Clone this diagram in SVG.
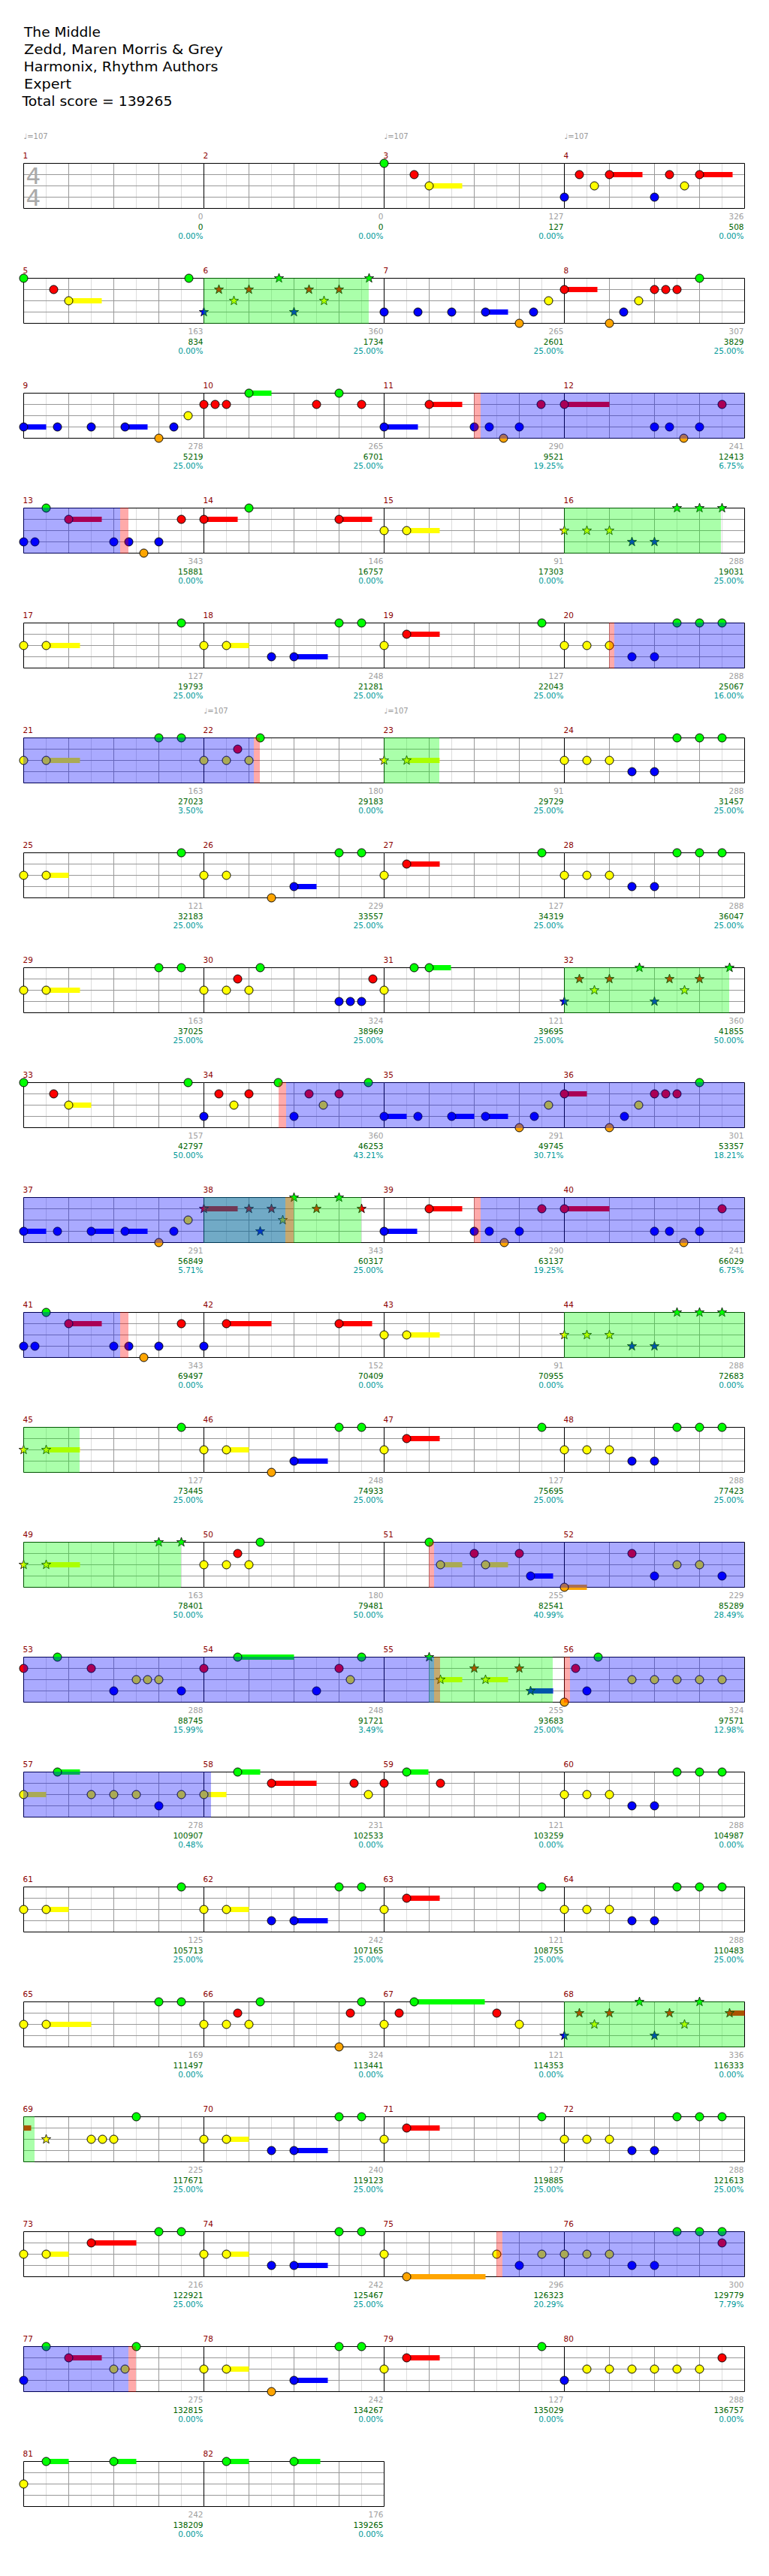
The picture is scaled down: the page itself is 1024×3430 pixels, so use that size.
<svg xmlns="http://www.w3.org/2000/svg" xmlns:xlink="http://www.w3.org/1999/xlink" width="1024" height="3430" viewBox="0 0 1024 3430">
<style>
.ttl{font-family:"DejaVu Sans",sans-serif;font-size:18.5px;fill:#000}
.mn{font-family:"DejaVu Sans",sans-serif;font-size:10.5px;fill:#8b0000}
.tp{font-family:"DejaVu Sans",sans-serif;font-size:10px;fill:#999}
.ts{font-family:"DejaVu Sans",sans-serif;font-size:31px;fill:#aaa}
.a,.b,.c{font-family:"DejaVu Sans",sans-serif;font-size:10.5px;text-anchor:end}
.a{fill:#a0a0a0}.b{fill:#006400}.c{fill:#009999}
.g{fill:#0f0}.r{fill:#f00}.y{fill:#ff0}.b2{fill:#00f}.o{fill:#ffa500}
.ovg{fill:#0f0;fill-opacity:.333}
.ovb{fill:#00f;fill-opacity:.333}
.ovp{fill:#f00;fill-opacity:.333}
</style>
<defs>
<g id="grid" fill="none">
<path d="M30,0V60M90,0V60M150,0V60M210,0V60" stroke="#ddd"/>
<path d="M60,0V60M120,0V60M180,0V60M0,15H240M0,30H240M0,45H240" stroke="#999"/>
<path d="M0,0H240M0,60H240M0,0V60" stroke="#000"/>
</g>
<circle id="G" r="5.5" fill="#0f0" stroke="#000"/>
<circle id="R" r="5.5" fill="#f00" stroke="#000"/>
<circle id="Y" r="5.5" fill="#ff0" stroke="#000"/>
<circle id="B" r="5.5" fill="#00f" stroke="#000"/>
<circle id="O" r="5.5" fill="#ffa500" stroke="#000"/>
<path id="st" d="M0,-6.5L1.53,-2.1L6.18,-2.01L2.47,0.8L3.82,5.26L0,2.6L-3.82,5.26L-2.47,0.8L-6.18,-2.01L-1.53,-2.1Z" stroke="#000" stroke-width="0.8"/>
<use id="sG" href="#st" fill="#0f0"/>
<use id="sR" href="#st" fill="#f00"/>
<use id="sY" href="#st" fill="#ff0"/>
<use id="sB" href="#st" fill="#00f"/>
<g id="P"><use href="#Y" x="0" y="30"/><use href="#Y" x="30" y="30"/><use href="#Y" x="60" y="30"/><use href="#B" x="90" y="45"/><use href="#B" x="120" y="45"/><use href="#G" x="150" y="0"/><use href="#G" x="180" y="0"/><use href="#G" x="210" y="0"/></g>
<g id="sP"><use href="#sY" x="0" y="30"/><use href="#sY" x="30" y="30"/><use href="#sY" x="60" y="30"/><use href="#sB" x="90" y="45"/><use href="#sB" x="120" y="45"/><use href="#sG" x="150" y="0"/><use href="#sG" x="180" y="0"/><use href="#sG" x="210" y="0"/></g>
<g id="tri"><use href="#sB" x="0" y="45"/><use href="#sR" x="20" y="15"/><use href="#sY" x="40" y="30"/><use href="#sR" x="60" y="15"/><use href="#sG" x="100" y="0"/><use href="#sB" x="120" y="45"/><use href="#sR" x="140" y="15"/><use href="#sY" x="160" y="30"/><use href="#sR" x="180" y="15"/><use href="#sG" x="220" y="0"/></g>
<g id="v1"><rect class="y" x="30" y="26.5" width="30" height="7"/><rect class="b2" x="120" y="41.5" width="45" height="7"/><use href="#Y" x="0" y="30"/><use href="#Y" x="30" y="30"/><use href="#B" x="90" y="45"/><use href="#B" x="120" y="45"/><use href="#G" x="180" y="0"/><use href="#G" x="210" y="0"/></g>
<g id="v2"><rect class="r" x="30" y="11.5" width="44" height="7"/><use href="#Y" x="0" y="30"/><use href="#R" x="30" y="15"/><use href="#G" x="210" y="0"/></g>
</defs>
<rect width="1024" height="3430" fill="#fff"/>
<g id="title">
<text class="ttl" x="32" y="49" textLength="102" lengthAdjust="spacingAndGlyphs">The Middle</text>
<text class="ttl" x="32" y="72" textLength="265" lengthAdjust="spacingAndGlyphs">Zedd, Maren Morris &amp; Grey</text>
<text class="ttl" x="31.5" y="95" textLength="259" lengthAdjust="spacingAndGlyphs">Harmonix, Rhythm Authors</text>
<text class="ttl" x="32" y="118" textLength="63" lengthAdjust="spacingAndGlyphs">Expert</text>
<text class="ttl" x="29.5" y="141" textLength="200" lengthAdjust="spacingAndGlyphs">Total score = 139265</text>
</g>

<g id="row0" transform="translate(0,217.5)">
<use href="#grid" x="31.5"/><use href="#grid" x="271.5"/><use href="#grid" x="511.5"/><use href="#grid" x="751.5"/><path d="M991.5,0V60" stroke="#000"/>
<g id="m1" transform="translate(31.5,0)"><text class="mn" x="-1" y="-7">1</text><text class="tp" x="0" y="-33">♩=107</text>
<text class="ts"><tspan x="3" y="27.5">4</tspan><tspan x="3" y="56.5">4</tspan></text>
<text class="a" x="239" y="74.5">0</text><text class="b" x="239" y="88">0</text><text class="c" x="239" y="100.5">0.00%</text></g>
<g id="m2" transform="translate(271.5,0)"><text class="mn" x="-1" y="-7">2</text>
<text class="a" x="239" y="74.5">0</text><text class="b" x="239" y="88">0</text><text class="c" x="239" y="100.5">0.00%</text></g>
<g id="m3" transform="translate(511.5,0)"><text class="mn" x="-1" y="-7">3</text><text class="tp" x="0" y="-33">♩=107</text>
<rect class="y" x="60" y="26.5" width="44" height="7"/>
<use href="#G" x="0" y="0"/><use href="#R" x="40" y="15"/><use href="#Y" x="60" y="30"/>
<text class="a" x="239" y="74.5">127</text><text class="b" x="239" y="88">127</text><text class="c" x="239" y="100.5">0.00%</text></g>
<g id="m4" transform="translate(751.5,0)"><text class="mn" x="-1" y="-7">4</text><text class="tp" x="0" y="-33">♩=107</text>
<rect class="r" x="60" y="11.5" width="44" height="7"/><rect class="r" x="180" y="11.5" width="44" height="7"/>
<use href="#B" x="0" y="45"/><use href="#R" x="20" y="15"/><use href="#Y" x="40" y="30"/><use href="#R" x="60" y="15"/><use href="#B" x="120" y="45"/><use href="#R" x="140" y="15"/><use href="#Y" x="160" y="30"/><use href="#R" x="180" y="15"/>
<text class="a" x="239" y="74.5">326</text><text class="b" x="239" y="88">508</text><text class="c" x="239" y="100.5">0.00%</text></g>
</g>

<g id="row1" transform="translate(0,370.5)">
<use href="#grid" x="31.5"/><use href="#grid" x="271.5"/><use href="#grid" x="511.5"/><use href="#grid" x="751.5"/><path d="M991.5,0V60" stroke="#000"/>
<g id="m5" transform="translate(31.5,0)"><text class="mn" x="-1" y="-7">5</text>
<rect class="y" x="60" y="26.5" width="44" height="7"/>
<use href="#G" x="0" y="0"/><use href="#R" x="40" y="15"/><use href="#Y" x="60" y="30"/><use href="#G" x="220" y="0"/>
<text class="a" x="239" y="74.5">163</text><text class="b" x="239" y="88">834</text><text class="c" x="239" y="100.5">0.00%</text></g>
<g id="m6" transform="translate(271.5,0)"><text class="mn" x="-1" y="-7">6</text>
<use href="#tri"/>
<text class="a" x="239" y="74.5">360</text><text class="b" x="239" y="88">1734</text><text class="c" x="239" y="100.5">25.00%</text></g>
<g id="m7" transform="translate(511.5,0)"><text class="mn" x="-1" y="-7">7</text>
<rect class="b2" x="135" y="41.5" width="30" height="7"/>
<use href="#B" x="0" y="45"/><use href="#B" x="45" y="45"/><use href="#B" x="90" y="45"/><use href="#B" x="135" y="45"/><use href="#O" x="180" y="60"/><use href="#B" x="199" y="45"/><use href="#Y" x="219" y="30"/>
<text class="a" x="239" y="74.5">265</text><text class="b" x="239" y="88">2601</text><text class="c" x="239" y="100.5">25.00%</text></g>
<g id="m8" transform="translate(751.5,0)"><text class="mn" x="-1" y="-7">8</text>
<rect class="r" x="0" y="11.5" width="44" height="7"/>
<use href="#R" x="0" y="15"/><use href="#O" x="60" y="60"/><use href="#B" x="79" y="45"/><use href="#Y" x="99" y="30"/><use href="#R" x="120" y="15"/><use href="#R" x="135" y="15"/><use href="#R" x="150" y="15"/><use href="#G" x="180" y="0"/>
<text class="a" x="239" y="74.5">307</text><text class="b" x="239" y="88">3829</text><text class="c" x="239" y="100.5">25.00%</text></g>
<rect class="ovg" x="271" y="-0.5" width="220" height="61"/>
</g>

<g id="row2" transform="translate(0,523.5)">
<use href="#grid" x="31.5"/><use href="#grid" x="271.5"/><use href="#grid" x="511.5"/><use href="#grid" x="751.5"/><path d="M991.5,0V60" stroke="#000"/>
<g id="m9" transform="translate(31.5,0)"><text class="mn" x="-1" y="-7">9</text>
<rect class="b2" x="0" y="41.5" width="30" height="7"/><rect class="b2" x="135" y="41.5" width="30" height="7"/>
<use href="#B" x="0" y="45"/><use href="#B" x="45" y="45"/><use href="#B" x="90" y="45"/><use href="#B" x="135" y="45"/><use href="#O" x="180" y="60"/><use href="#B" x="200" y="45"/><use href="#Y" x="219" y="30"/>
<text class="a" x="239" y="74.5">278</text><text class="b" x="239" y="88">5219</text><text class="c" x="239" y="100.5">25.00%</text></g>
<g id="m10" transform="translate(271.5,0)"><text class="mn" x="-1" y="-7">10</text>
<rect class="g" x="60" y="-3.5" width="30" height="7"/>
<use href="#R" x="0" y="15"/><use href="#R" x="15" y="15"/><use href="#R" x="30" y="15"/><use href="#G" x="60" y="0"/><use href="#R" x="150" y="15"/><use href="#G" x="180" y="0"/><use href="#R" x="210" y="15"/>
<text class="a" x="239" y="74.5">265</text><text class="b" x="239" y="88">6701</text><text class="c" x="239" y="100.5">25.00%</text></g>
<g id="m11" transform="translate(511.5,0)"><text class="mn" x="-1" y="-7">11</text>
<rect class="b2" x="0" y="41.5" width="45" height="7"/><rect class="r" x="60" y="11.5" width="44" height="7"/>
<use href="#B" x="0" y="45"/><use href="#R" x="60" y="15"/><use href="#B" x="120" y="45"/><use href="#B" x="140" y="45"/><use href="#O" x="159" y="60"/><use href="#B" x="180" y="45"/><use href="#R" x="209" y="15"/>
<text class="a" x="239" y="74.5">290</text><text class="b" x="239" y="88">9521</text><text class="c" x="239" y="100.5">19.25%</text></g>
<g id="m12" transform="translate(751.5,0)"><text class="mn" x="-1" y="-7">12</text>
<rect class="r" x="0" y="11.5" width="60" height="7"/>
<use href="#R" x="0" y="15"/><use href="#B" x="120" y="45"/><use href="#B" x="140" y="45"/><use href="#O" x="159" y="60"/><use href="#B" x="180" y="45"/><use href="#R" x="210" y="15"/>
<text class="a" x="239" y="74.5">241</text><text class="b" x="239" y="88">12413</text><text class="c" x="239" y="100.5">6.75%</text></g>
<rect class="ovp" x="631" y="-0.5" width="9" height="61"/><rect class="ovb" x="640" y="-0.5" width="351" height="61"/>
</g>

<g id="row3" transform="translate(0,676.5)">
<use href="#grid" x="31.5"/><use href="#grid" x="271.5"/><use href="#grid" x="511.5"/><use href="#grid" x="751.5"/><path d="M991.5,0V60" stroke="#000"/>
<g id="m13" transform="translate(31.5,0)"><text class="mn" x="-1" y="-7">13</text>
<rect class="r" x="60" y="11.5" width="44" height="7"/>
<use href="#B" x="0" y="45"/><use href="#B" x="15" y="45"/><use href="#G" x="30" y="0"/><use href="#R" x="60" y="15"/><use href="#B" x="120" y="45"/><use href="#B" x="140" y="45"/><use href="#O" x="160" y="60"/><use href="#B" x="180" y="45"/><use href="#R" x="210" y="15"/>
<text class="a" x="239" y="74.5">343</text><text class="b" x="239" y="88">15881</text><text class="c" x="239" y="100.5">0.00%</text></g>
<g id="m14" transform="translate(271.5,0)"><text class="mn" x="-1" y="-7">14</text>
<rect class="r" x="0" y="11.5" width="45" height="7"/><rect class="r" x="180" y="11.5" width="44" height="7"/>
<use href="#R" x="0" y="15"/><use href="#G" x="60" y="0"/><use href="#R" x="180" y="15"/>
<text class="a" x="239" y="74.5">146</text><text class="b" x="239" y="88">16757</text><text class="c" x="239" y="100.5">0.00%</text></g>
<g id="m15" transform="translate(511.5,0)"><text class="mn" x="-1" y="-7">15</text>
<rect class="y" x="30" y="26.5" width="44" height="7"/>
<use href="#Y" x="0" y="30"/><use href="#Y" x="30" y="30"/>
<text class="a" x="239" y="74.5">91</text><text class="b" x="239" y="88">17303</text><text class="c" x="239" y="100.5">0.00%</text></g>
<g id="m16" transform="translate(751.5,0)"><text class="mn" x="-1" y="-7">16</text>
<use href="#sP"/>
<text class="a" x="239" y="74.5">288</text><text class="b" x="239" y="88">19031</text><text class="c" x="239" y="100.5">25.00%</text></g>
<rect class="ovg" x="751" y="-0.5" width="209" height="61"/>
<rect class="ovb" x="31" y="-0.5" width="129" height="61"/><rect class="ovp" x="160" y="-0.5" width="11" height="61"/>
</g>

<g id="row4" transform="translate(0,829.5)">
<use href="#grid" x="31.5"/><use href="#grid" x="271.5"/><use href="#grid" x="511.5"/><use href="#grid" x="751.5"/><path d="M991.5,0V60" stroke="#000"/>
<g id="m17" transform="translate(31.5,0)"><text class="mn" x="-1" y="-7">17</text>
<rect class="y" x="30" y="26.5" width="45" height="7"/>
<use href="#Y" x="0" y="30"/><use href="#Y" x="30" y="30"/><use href="#G" x="210" y="0"/>
<text class="a" x="239" y="74.5">127</text><text class="b" x="239" y="88">19793</text><text class="c" x="239" y="100.5">25.00%</text></g>
<g id="m18" transform="translate(271.5,0)"><text class="mn" x="-1" y="-7">18</text>
<use href="#v1"/>
<text class="a" x="239" y="74.5">248</text><text class="b" x="239" y="88">21281</text><text class="c" x="239" y="100.5">25.00%</text></g>
<g id="m19" transform="translate(511.5,0)"><text class="mn" x="-1" y="-7">19</text>
<use href="#v2"/>
<text class="a" x="239" y="74.5">127</text><text class="b" x="239" y="88">22043</text><text class="c" x="239" y="100.5">25.00%</text></g>
<g id="m20" transform="translate(751.5,0)"><text class="mn" x="-1" y="-7">20</text>
<use href="#P"/>
<text class="a" x="239" y="74.5">288</text><text class="b" x="239" y="88">25067</text><text class="c" x="239" y="100.5">16.00%</text></g>
<rect class="ovp" x="811" y="-0.5" width="7" height="61"/><rect class="ovb" x="818" y="-0.5" width="173" height="61"/>
</g>

<g id="row5" transform="translate(0,982.5)">
<use href="#grid" x="31.5"/><use href="#grid" x="271.5"/><use href="#grid" x="511.5"/><use href="#grid" x="751.5"/><path d="M991.5,0V60" stroke="#000"/>
<g id="m21" transform="translate(31.5,0)"><text class="mn" x="-1" y="-7">21</text>
<rect class="y" x="30" y="26.5" width="45" height="7"/>
<use href="#Y" x="0" y="30"/><use href="#Y" x="30" y="30"/><use href="#G" x="180" y="0"/><use href="#G" x="210" y="0"/>
<text class="a" x="239" y="74.5">163</text><text class="b" x="239" y="88">27023</text><text class="c" x="239" y="100.5">3.50%</text></g>
<g id="m22" transform="translate(271.5,0)"><text class="mn" x="-1" y="-7">22</text><text class="tp" x="0" y="-33">♩=107</text>
<use href="#Y" x="0" y="30"/><use href="#Y" x="30" y="30"/><use href="#R" x="45" y="15"/><use href="#Y" x="60" y="30"/><use href="#G" x="75" y="0"/>
<text class="a" x="239" y="74.5">180</text><text class="b" x="239" y="88">29183</text><text class="c" x="239" y="100.5">0.00%</text></g>
<g id="m23" transform="translate(511.5,0)"><text class="mn" x="-1" y="-7">23</text><text class="tp" x="0" y="-33">♩=107</text>
<rect class="y" x="30" y="26.5" width="44" height="7"/>
<use href="#sY" x="0" y="30"/><use href="#sY" x="30" y="30"/>
<text class="a" x="239" y="74.5">91</text><text class="b" x="239" y="88">29729</text><text class="c" x="239" y="100.5">25.00%</text></g>
<g id="m24" transform="translate(751.5,0)"><text class="mn" x="-1" y="-7">24</text>
<use href="#P"/>
<text class="a" x="239" y="74.5">288</text><text class="b" x="239" y="88">31457</text><text class="c" x="239" y="100.5">25.00%</text></g>
<rect class="ovg" x="511" y="-0.5" width="74" height="61"/>
<rect class="ovb" x="31" y="-0.5" width="307" height="61"/><rect class="ovp" x="338" y="-0.5" width="8" height="61"/>
</g>

<g id="row6" transform="translate(0,1135.5)">
<use href="#grid" x="31.5"/><use href="#grid" x="271.5"/><use href="#grid" x="511.5"/><use href="#grid" x="751.5"/><path d="M991.5,0V60" stroke="#000"/>
<g id="m25" transform="translate(31.5,0)"><text class="mn" x="-1" y="-7">25</text>
<rect class="y" x="30" y="26.5" width="30" height="7"/>
<use href="#Y" x="0" y="30"/><use href="#Y" x="30" y="30"/><use href="#G" x="210" y="0"/>
<text class="a" x="239" y="74.5">121</text><text class="b" x="239" y="88">32183</text><text class="c" x="239" y="100.5">25.00%</text></g>
<g id="m26" transform="translate(271.5,0)"><text class="mn" x="-1" y="-7">26</text>
<rect class="b2" x="120" y="41.5" width="30" height="7"/>
<use href="#Y" x="0" y="30"/><use href="#Y" x="30" y="30"/><use href="#O" x="90" y="60"/><use href="#B" x="120" y="45"/><use href="#G" x="180" y="0"/><use href="#G" x="210" y="0"/>
<text class="a" x="239" y="74.5">229</text><text class="b" x="239" y="88">33557</text><text class="c" x="239" y="100.5">25.00%</text></g>
<g id="m27" transform="translate(511.5,0)"><text class="mn" x="-1" y="-7">27</text>
<use href="#v2"/>
<text class="a" x="239" y="74.5">127</text><text class="b" x="239" y="88">34319</text><text class="c" x="239" y="100.5">25.00%</text></g>
<g id="m28" transform="translate(751.5,0)"><text class="mn" x="-1" y="-7">28</text>
<use href="#P"/>
<text class="a" x="239" y="74.5">288</text><text class="b" x="239" y="88">36047</text><text class="c" x="239" y="100.5">25.00%</text></g>
</g>

<g id="row7" transform="translate(0,1288.5)">
<use href="#grid" x="31.5"/><use href="#grid" x="271.5"/><use href="#grid" x="511.5"/><use href="#grid" x="751.5"/><path d="M991.5,0V60" stroke="#000"/>
<g id="m29" transform="translate(31.5,0)"><text class="mn" x="-1" y="-7">29</text>
<rect class="y" x="30" y="26.5" width="45" height="7"/>
<use href="#Y" x="0" y="30"/><use href="#Y" x="30" y="30"/><use href="#G" x="180" y="0"/><use href="#G" x="210" y="0"/>
<text class="a" x="239" y="74.5">163</text><text class="b" x="239" y="88">37025</text><text class="c" x="239" y="100.5">25.00%</text></g>
<g id="m30" transform="translate(271.5,0)"><text class="mn" x="-1" y="-7">30</text>
<use href="#Y" x="0" y="30"/><use href="#Y" x="30" y="30"/><use href="#R" x="45" y="15"/><use href="#Y" x="60" y="30"/><use href="#G" x="75" y="0"/><use href="#B" x="180" y="45"/><use href="#B" x="195" y="45"/><use href="#B" x="210" y="45"/><use href="#R" x="225" y="15"/>
<text class="a" x="239" y="74.5">324</text><text class="b" x="239" y="88">38969</text><text class="c" x="239" y="100.5">25.00%</text></g>
<g id="m31" transform="translate(511.5,0)"><text class="mn" x="-1" y="-7">31</text>
<rect class="g" x="60" y="-3.5" width="29" height="7"/>
<use href="#Y" x="0" y="30"/><use href="#G" x="40" y="0"/><use href="#G" x="60" y="0"/>
<text class="a" x="239" y="74.5">121</text><text class="b" x="239" y="88">39695</text><text class="c" x="239" y="100.5">25.00%</text></g>
<g id="m32" transform="translate(751.5,0)"><text class="mn" x="-1" y="-7">32</text>
<use href="#tri"/>
<text class="a" x="239" y="74.5">360</text><text class="b" x="239" y="88">41855</text><text class="c" x="239" y="100.5">50.00%</text></g>
<rect class="ovg" x="751" y="-0.5" width="220" height="61"/>
</g>

<g id="row8" transform="translate(0,1441.5)">
<use href="#grid" x="31.5"/><use href="#grid" x="271.5"/><use href="#grid" x="511.5"/><use href="#grid" x="751.5"/><path d="M991.5,0V60" stroke="#000"/>
<g id="m33" transform="translate(31.5,0)"><text class="mn" x="-1" y="-7">33</text>
<rect class="y" x="60" y="26.5" width="30" height="7"/>
<use href="#G" x="0" y="0"/><use href="#R" x="40" y="15"/><use href="#Y" x="60" y="30"/><use href="#G" x="219" y="0"/>
<text class="a" x="239" y="74.5">157</text><text class="b" x="239" y="88">42797</text><text class="c" x="239" y="100.5">50.00%</text></g>
<g id="m34" transform="translate(271.5,0)"><text class="mn" x="-1" y="-7">34</text>
<use href="#B" x="0" y="45"/><use href="#R" x="20" y="15"/><use href="#Y" x="40" y="30"/><use href="#R" x="60" y="15"/><use href="#G" x="99" y="0"/><use href="#B" x="120" y="45"/><use href="#R" x="140" y="15"/><use href="#Y" x="159" y="30"/><use href="#R" x="180" y="15"/><use href="#G" x="219" y="0"/>
<text class="a" x="239" y="74.5">360</text><text class="b" x="239" y="88">46253</text><text class="c" x="239" y="100.5">43.21%</text></g>
<g id="m35" transform="translate(511.5,0)"><text class="mn" x="-1" y="-7">35</text>
<rect class="b2" x="0" y="41.5" width="30" height="7"/><rect class="b2" x="90" y="41.5" width="30" height="7"/><rect class="b2" x="135" y="41.5" width="30" height="7"/>
<use href="#B" x="0" y="45"/><use href="#B" x="45" y="45"/><use href="#B" x="90" y="45"/><use href="#B" x="135" y="45"/><use href="#O" x="180" y="60"/><use href="#B" x="200" y="45"/><use href="#Y" x="219" y="30"/>
<text class="a" x="239" y="74.5">291</text><text class="b" x="239" y="88">49745</text><text class="c" x="239" y="100.5">30.71%</text></g>
<g id="m36" transform="translate(751.5,0)"><text class="mn" x="-1" y="-7">36</text>
<rect class="r" x="0" y="11.5" width="30" height="7"/>
<use href="#R" x="0" y="15"/><use href="#O" x="60" y="60"/><use href="#B" x="80" y="45"/><use href="#Y" x="99" y="30"/><use href="#R" x="120" y="15"/><use href="#R" x="135" y="15"/><use href="#R" x="150" y="15"/><use href="#G" x="180" y="0"/>
<text class="a" x="239" y="74.5">301</text><text class="b" x="239" y="88">53357</text><text class="c" x="239" y="100.5">18.21%</text></g>
<rect class="ovp" x="371" y="-0.5" width="10" height="61"/><rect class="ovb" x="381" y="-0.5" width="610" height="61"/>
</g>

<g id="row9" transform="translate(0,1594.5)">
<use href="#grid" x="31.5"/><use href="#grid" x="271.5"/><use href="#grid" x="511.5"/><use href="#grid" x="751.5"/><path d="M991.5,0V60" stroke="#000"/>
<g id="m37" transform="translate(31.5,0)"><text class="mn" x="-1" y="-7">37</text>
<rect class="b2" x="0" y="41.5" width="30" height="7"/><rect class="b2" x="90" y="41.5" width="30" height="7"/><rect class="b2" x="135" y="41.5" width="30" height="7"/>
<use href="#B" x="0" y="45"/><use href="#B" x="45" y="45"/><use href="#B" x="90" y="45"/><use href="#B" x="135" y="45"/><use href="#O" x="180" y="60"/><use href="#B" x="200" y="45"/><use href="#Y" x="219" y="30"/>
<text class="a" x="239" y="74.5">291</text><text class="b" x="239" y="88">56849</text><text class="c" x="239" y="100.5">5.71%</text></g>
<g id="m38" transform="translate(271.5,0)"><text class="mn" x="-1" y="-7">38</text>
<rect class="r" x="0" y="11.5" width="45" height="7"/>
<use href="#sR" x="0" y="15"/><use href="#sR" x="60" y="15"/><use href="#sB" x="75" y="45"/><use href="#sR" x="90" y="15"/><use href="#sY" x="105" y="30"/><use href="#sG" x="120" y="0"/><use href="#sR" x="150" y="15"/><use href="#sG" x="180" y="0"/><use href="#sR" x="210" y="15"/>
<text class="a" x="239" y="74.5">343</text><text class="b" x="239" y="88">60317</text><text class="c" x="239" y="100.5">25.00%</text></g>
<g id="m39" transform="translate(511.5,0)"><text class="mn" x="-1" y="-7">39</text>
<rect class="b2" x="0" y="41.5" width="44" height="7"/><rect class="r" x="60" y="11.5" width="44" height="7"/>
<use href="#B" x="0" y="45"/><use href="#R" x="60" y="15"/><use href="#B" x="120" y="45"/><use href="#B" x="140" y="45"/><use href="#O" x="160" y="60"/><use href="#B" x="180" y="45"/><use href="#R" x="210" y="15"/>
<text class="a" x="239" y="74.5">290</text><text class="b" x="239" y="88">63137</text><text class="c" x="239" y="100.5">19.25%</text></g>
<g id="m40" transform="translate(751.5,0)"><text class="mn" x="-1" y="-7">40</text>
<rect class="r" x="0" y="11.5" width="60" height="7"/>
<use href="#R" x="0" y="15"/><use href="#B" x="120" y="45"/><use href="#B" x="140" y="45"/><use href="#O" x="159" y="60"/><use href="#B" x="180" y="45"/><use href="#R" x="210" y="15"/>
<text class="a" x="239" y="74.5">241</text><text class="b" x="239" y="88">66029</text><text class="c" x="239" y="100.5">6.75%</text></g>
<rect class="ovg" x="271" y="-0.5" width="210" height="61"/>
<rect class="ovb" x="31" y="-0.5" width="349" height="61"/><rect class="ovp" x="380" y="-0.5" width="11" height="61"/>
<rect class="ovp" x="631" y="-0.5" width="9" height="61"/><rect class="ovb" x="640" y="-0.5" width="351" height="61"/>
</g>

<g id="row10" transform="translate(0,1747.5)">
<use href="#grid" x="31.5"/><use href="#grid" x="271.5"/><use href="#grid" x="511.5"/><use href="#grid" x="751.5"/><path d="M991.5,0V60" stroke="#000"/>
<g id="m41" transform="translate(31.5,0)"><text class="mn" x="-1" y="-7">41</text>
<rect class="r" x="60" y="11.5" width="44" height="7"/>
<use href="#B" x="0" y="45"/><use href="#B" x="15" y="45"/><use href="#G" x="30" y="0"/><use href="#R" x="60" y="15"/><use href="#B" x="120" y="45"/><use href="#B" x="140" y="45"/><use href="#O" x="160" y="60"/><use href="#B" x="180" y="45"/><use href="#R" x="210" y="15"/>
<text class="a" x="239" y="74.5">343</text><text class="b" x="239" y="88">69497</text><text class="c" x="239" y="100.5">0.00%</text></g>
<g id="m42" transform="translate(271.5,0)"><text class="mn" x="-1" y="-7">42</text>
<rect class="r" x="30" y="11.5" width="60" height="7"/><rect class="r" x="180" y="11.5" width="44" height="7"/>
<use href="#B" x="0" y="45"/><use href="#R" x="30" y="15"/><use href="#R" x="180" y="15"/>
<text class="a" x="239" y="74.5">152</text><text class="b" x="239" y="88">70409</text><text class="c" x="239" y="100.5">0.00%</text></g>
<g id="m43" transform="translate(511.5,0)"><text class="mn" x="-1" y="-7">43</text>
<rect class="y" x="30" y="26.5" width="44" height="7"/>
<use href="#Y" x="0" y="30"/><use href="#Y" x="30" y="30"/>
<text class="a" x="239" y="74.5">91</text><text class="b" x="239" y="88">70955</text><text class="c" x="239" y="100.5">0.00%</text></g>
<g id="m44" transform="translate(751.5,0)"><text class="mn" x="-1" y="-7">44</text>
<use href="#sP"/>
<text class="a" x="239" y="74.5">288</text><text class="b" x="239" y="88">72683</text><text class="c" x="239" y="100.5">0.00%</text></g>
<rect class="ovg" x="751" y="-0.5" width="240" height="61"/>
<rect class="ovb" x="31" y="-0.5" width="129" height="61"/><rect class="ovp" x="160" y="-0.5" width="11" height="61"/>
</g>

<g id="row11" transform="translate(0,1900.5)">
<use href="#grid" x="31.5"/><use href="#grid" x="271.5"/><use href="#grid" x="511.5"/><use href="#grid" x="751.5"/><path d="M991.5,0V60" stroke="#000"/>
<g id="m45" transform="translate(31.5,0)"><text class="mn" x="-1" y="-7">45</text>
<rect class="y" x="30" y="26.5" width="45" height="7"/>
<use href="#sY" x="0" y="30"/><use href="#sY" x="30" y="30"/><use href="#G" x="210" y="0"/>
<text class="a" x="239" y="74.5">127</text><text class="b" x="239" y="88">73445</text><text class="c" x="239" y="100.5">25.00%</text></g>
<g id="m46" transform="translate(271.5,0)"><text class="mn" x="-1" y="-7">46</text>
<rect class="y" x="30" y="26.5" width="30" height="7"/><rect class="b2" x="120" y="41.5" width="45" height="7"/>
<use href="#Y" x="0" y="30"/><use href="#Y" x="30" y="30"/><use href="#O" x="90" y="60"/><use href="#B" x="120" y="45"/><use href="#G" x="180" y="0"/><use href="#G" x="210" y="0"/>
<text class="a" x="239" y="74.5">248</text><text class="b" x="239" y="88">74933</text><text class="c" x="239" y="100.5">25.00%</text></g>
<g id="m47" transform="translate(511.5,0)"><text class="mn" x="-1" y="-7">47</text>
<use href="#v2"/>
<text class="a" x="239" y="74.5">127</text><text class="b" x="239" y="88">75695</text><text class="c" x="239" y="100.5">25.00%</text></g>
<g id="m48" transform="translate(751.5,0)"><text class="mn" x="-1" y="-7">48</text>
<use href="#P"/>
<text class="a" x="239" y="74.5">288</text><text class="b" x="239" y="88">77423</text><text class="c" x="239" y="100.5">25.00%</text></g>
<rect class="ovg" x="31" y="-0.5" width="75" height="61"/>
</g>

<g id="row12" transform="translate(0,2053.5)">
<use href="#grid" x="31.5"/><use href="#grid" x="271.5"/><use href="#grid" x="511.5"/><use href="#grid" x="751.5"/><path d="M991.5,0V60" stroke="#000"/>
<g id="m49" transform="translate(31.5,0)"><text class="mn" x="-1" y="-7">49</text>
<rect class="y" x="30" y="26.5" width="45" height="7"/>
<use href="#sY" x="0" y="30"/><use href="#sY" x="30" y="30"/><use href="#sG" x="180" y="0"/><use href="#sG" x="210" y="0"/>
<text class="a" x="239" y="74.5">163</text><text class="b" x="239" y="88">78401</text><text class="c" x="239" y="100.5">50.00%</text></g>
<g id="m50" transform="translate(271.5,0)"><text class="mn" x="-1" y="-7">50</text>
<use href="#Y" x="0" y="30"/><use href="#Y" x="30" y="30"/><use href="#R" x="45" y="15"/><use href="#Y" x="60" y="30"/><use href="#G" x="75" y="0"/>
<text class="a" x="239" y="74.5">180</text><text class="b" x="239" y="88">79481</text><text class="c" x="239" y="100.5">50.00%</text></g>
<g id="m51" transform="translate(511.5,0)"><text class="mn" x="-1" y="-7">51</text>
<rect class="y" x="75" y="26.5" width="29" height="7"/><rect class="y" x="135" y="26.5" width="30" height="7"/><rect class="b2" x="195" y="41.5" width="30" height="7"/>
<use href="#G" x="60" y="0"/><use href="#Y" x="75" y="30"/><use href="#R" x="120" y="15"/><use href="#Y" x="135" y="30"/><use href="#R" x="180" y="15"/><use href="#B" x="195" y="45"/>
<text class="a" x="239" y="74.5">255</text><text class="b" x="239" y="88">82541</text><text class="c" x="239" y="100.5">40.99%</text></g>
<g id="m52" transform="translate(751.5,0)"><text class="mn" x="-1" y="-7">52</text>
<rect class="o" x="0" y="56.5" width="30" height="7"/>
<use href="#O" x="0" y="60"/><use href="#R" x="90" y="15"/><use href="#B" x="120" y="45"/><use href="#Y" x="150" y="30"/><use href="#Y" x="180" y="30"/><use href="#B" x="210" y="45"/>
<text class="a" x="239" y="74.5">229</text><text class="b" x="239" y="88">85289</text><text class="c" x="239" y="100.5">28.49%</text></g>
<rect class="ovg" x="31" y="-0.5" width="210" height="61"/>
<rect class="ovp" x="571" y="-0.5" width="7" height="61"/><rect class="ovb" x="578" y="-0.5" width="413" height="61"/>
</g>

<g id="row13" transform="translate(0,2206.5)">
<use href="#grid" x="31.5"/><use href="#grid" x="271.5"/><use href="#grid" x="511.5"/><use href="#grid" x="751.5"/><path d="M991.5,0V60" stroke="#000"/>
<g id="m53" transform="translate(31.5,0)"><text class="mn" x="-1" y="-7">53</text>
<use href="#R" x="0" y="15"/><use href="#G" x="45" y="0"/><use href="#R" x="90" y="15"/><use href="#B" x="120" y="45"/><use href="#Y" x="150" y="30"/><use href="#Y" x="165" y="30"/><use href="#Y" x="180" y="30"/><use href="#B" x="210" y="45"/>
<text class="a" x="239" y="74.5">288</text><text class="b" x="239" y="88">88745</text><text class="c" x="239" y="100.5">15.99%</text></g>
<g id="m54" transform="translate(271.5,0)"><text class="mn" x="-1" y="-7">54</text>
<rect class="g" x="45" y="-3.5" width="75" height="7"/>
<use href="#R" x="0" y="15"/><use href="#G" x="45" y="0"/><use href="#B" x="150" y="45"/><use href="#R" x="180" y="15"/><use href="#Y" x="195" y="30"/><use href="#G" x="210" y="0"/>
<text class="a" x="239" y="74.5">248</text><text class="b" x="239" y="88">91721</text><text class="c" x="239" y="100.5">3.49%</text></g>
<g id="m55" transform="translate(511.5,0)"><text class="mn" x="-1" y="-7">55</text>
<rect class="y" x="75" y="26.5" width="29" height="7"/><rect class="y" x="135" y="26.5" width="30" height="7"/><rect class="b2" x="195" y="41.5" width="30" height="7"/>
<use href="#sG" x="60" y="0"/><use href="#sY" x="75" y="30"/><use href="#sR" x="120" y="15"/><use href="#sY" x="135" y="30"/><use href="#sR" x="180" y="15"/><use href="#sB" x="195" y="45"/>
<text class="a" x="239" y="74.5">255</text><text class="b" x="239" y="88">93683</text><text class="c" x="239" y="100.5">25.00%</text></g>
<g id="m56" transform="translate(751.5,0)"><text class="mn" x="-1" y="-7">56</text>
<use href="#O" x="0" y="60"/><use href="#R" x="15" y="15"/><use href="#B" x="30" y="45"/><use href="#G" x="45" y="0"/><use href="#Y" x="90" y="30"/><use href="#Y" x="120" y="30"/><use href="#Y" x="150" y="30"/><use href="#Y" x="180" y="30"/><use href="#Y" x="210" y="30"/>
<text class="a" x="239" y="74.5">324</text><text class="b" x="239" y="88">97571</text><text class="c" x="239" y="100.5">12.98%</text></g>
<rect class="ovg" x="571" y="-0.5" width="165" height="61"/>
<rect class="ovb" x="31" y="-0.5" width="547" height="61"/><rect class="ovp" x="578" y="-0.5" width="8" height="61"/>
<rect class="ovp" x="751" y="-0.5" width="8" height="61"/><rect class="ovb" x="759" y="-0.5" width="232" height="61"/>
</g>

<g id="row14" transform="translate(0,2359.5)">
<use href="#grid" x="31.5"/><use href="#grid" x="271.5"/><use href="#grid" x="511.5"/><use href="#grid" x="751.5"/><path d="M991.5,0V60" stroke="#000"/>
<g id="m57" transform="translate(31.5,0)"><text class="mn" x="-1" y="-7">57</text>
<rect class="y" x="0" y="26.5" width="30" height="7"/><rect class="g" x="45" y="-3.5" width="30" height="7"/>
<use href="#Y" x="0" y="30"/><use href="#G" x="45" y="0"/><use href="#Y" x="90" y="30"/><use href="#Y" x="120" y="30"/><use href="#Y" x="150" y="30"/><use href="#B" x="180" y="45"/><use href="#Y" x="210" y="30"/>
<text class="a" x="239" y="74.5">278</text><text class="b" x="239" y="88">100907</text><text class="c" x="239" y="100.5">0.48%</text></g>
<g id="m58" transform="translate(271.5,0)"><text class="mn" x="-1" y="-7">58</text>
<rect class="y" x="0" y="26.5" width="30" height="7"/><rect class="g" x="45" y="-3.5" width="30" height="7"/><rect class="r" x="90" y="11.5" width="60" height="7"/>
<use href="#Y" x="0" y="30"/><use href="#G" x="45" y="0"/><use href="#R" x="90" y="15"/><use href="#R" x="200" y="15"/><use href="#Y" x="219" y="30"/>
<text class="a" x="239" y="74.5">231</text><text class="b" x="239" y="88">102533</text><text class="c" x="239" y="100.5">0.00%</text></g>
<g id="m59" transform="translate(511.5,0)"><text class="mn" x="-1" y="-7">59</text>
<rect class="g" x="30" y="-3.5" width="29" height="7"/>
<use href="#R" x="0" y="15"/><use href="#G" x="30" y="0"/><use href="#R" x="75" y="15"/>
<text class="a" x="239" y="74.5">121</text><text class="b" x="239" y="88">103259</text><text class="c" x="239" y="100.5">0.00%</text></g>
<g id="m60" transform="translate(751.5,0)"><text class="mn" x="-1" y="-7">60</text>
<use href="#P"/>
<text class="a" x="239" y="74.5">288</text><text class="b" x="239" y="88">104987</text><text class="c" x="239" y="100.5">0.00%</text></g>
<rect class="ovb" x="31" y="-0.5" width="250" height="61"/>
</g>

<g id="row15" transform="translate(0,2512.5)">
<use href="#grid" x="31.5"/><use href="#grid" x="271.5"/><use href="#grid" x="511.5"/><use href="#grid" x="751.5"/><path d="M991.5,0V60" stroke="#000"/>
<g id="m61" transform="translate(31.5,0)"><text class="mn" x="-1" y="-7">61</text>
<rect class="y" x="30" y="26.5" width="30" height="7"/>
<use href="#Y" x="0" y="30"/><use href="#Y" x="30" y="30"/><use href="#G" x="210" y="0"/>
<text class="a" x="239" y="74.5">125</text><text class="b" x="239" y="88">105713</text><text class="c" x="239" y="100.5">25.00%</text></g>
<g id="m62" transform="translate(271.5,0)"><text class="mn" x="-1" y="-7">62</text>
<use href="#v1"/>
<text class="a" x="239" y="74.5">242</text><text class="b" x="239" y="88">107165</text><text class="c" x="239" y="100.5">25.00%</text></g>
<g id="m63" transform="translate(511.5,0)"><text class="mn" x="-1" y="-7">63</text>
<use href="#v2"/>
<text class="a" x="239" y="74.5">121</text><text class="b" x="239" y="88">108755</text><text class="c" x="239" y="100.5">25.00%</text></g>
<g id="m64" transform="translate(751.5,0)"><text class="mn" x="-1" y="-7">64</text>
<use href="#P"/>
<text class="a" x="239" y="74.5">288</text><text class="b" x="239" y="88">110483</text><text class="c" x="239" y="100.5">25.00%</text></g>
</g>

<g id="row16" transform="translate(0,2665.5)">
<use href="#grid" x="31.5"/><use href="#grid" x="271.5"/><use href="#grid" x="511.5"/><use href="#grid" x="751.5"/><path d="M991.5,0V60" stroke="#000"/>
<g id="m65" transform="translate(31.5,0)"><text class="mn" x="-1" y="-7">65</text>
<rect class="y" x="30" y="26.5" width="60" height="7"/>
<use href="#Y" x="0" y="30"/><use href="#Y" x="30" y="30"/><use href="#G" x="180" y="0"/><use href="#G" x="210" y="0"/>
<text class="a" x="239" y="74.5">169</text><text class="b" x="239" y="88">111497</text><text class="c" x="239" y="100.5">0.00%</text></g>
<g id="m66" transform="translate(271.5,0)"><text class="mn" x="-1" y="-7">66</text>
<use href="#Y" x="0" y="30"/><use href="#Y" x="30" y="30"/><use href="#R" x="45" y="15"/><use href="#Y" x="60" y="30"/><use href="#G" x="75" y="0"/><use href="#O" x="180" y="60"/><use href="#R" x="195" y="15"/><use href="#G" x="210" y="0"/>
<text class="a" x="239" y="74.5">324</text><text class="b" x="239" y="88">113441</text><text class="c" x="239" y="100.5">0.00%</text></g>
<g id="m67" transform="translate(511.5,0)"><text class="mn" x="-1" y="-7">67</text>
<rect class="g" x="40" y="-3.5" width="94" height="7"/>
<use href="#Y" x="0" y="30"/><use href="#R" x="20" y="15"/><use href="#G" x="40" y="0"/><use href="#R" x="150" y="15"/><use href="#Y" x="180" y="30"/>
<text class="a" x="239" y="74.5">121</text><text class="b" x="239" y="88">114353</text><text class="c" x="239" y="100.5">0.00%</text></g>
<g id="m68" transform="translate(751.5,0)"><text class="mn" x="-1" y="-7">68</text>
<rect class="r" x="220" y="11.5" width="20" height="7"/>
<use href="#sB" x="0" y="45"/><use href="#sR" x="20" y="15"/><use href="#sY" x="40" y="30"/><use href="#sR" x="60" y="15"/><use href="#sG" x="100" y="0"/><use href="#sB" x="120" y="45"/><use href="#sR" x="140" y="15"/><use href="#sY" x="160" y="30"/><use href="#sG" x="180" y="0"/><use href="#sR" x="220" y="15"/>
<text class="a" x="239" y="74.5">336</text><text class="b" x="239" y="88">116333</text><text class="c" x="239" y="100.5">0.00%</text></g>
<rect class="ovg" x="751" y="-0.5" width="240" height="61"/>
</g>

<g id="row17" transform="translate(0,2818.5)">
<use href="#grid" x="31.5"/><use href="#grid" x="271.5"/><use href="#grid" x="511.5"/><use href="#grid" x="751.5"/><path d="M991.5,0V60" stroke="#000"/>
<g id="m69" transform="translate(31.5,0)"><text class="mn" x="-1" y="-7">69</text>
<rect class="r" x="0" y="11.5" width="10" height="7"/>
<use href="#sY" x="30" y="30"/><use href="#Y" x="90" y="30"/><use href="#Y" x="105" y="30"/><use href="#Y" x="120" y="30"/><use href="#G" x="150" y="0"/>
<text class="a" x="239" y="74.5">225</text><text class="b" x="239" y="88">117671</text><text class="c" x="239" y="100.5">25.00%</text></g>
<g id="m70" transform="translate(271.5,0)"><text class="mn" x="-1" y="-7">70</text>
<use href="#v1"/>
<text class="a" x="239" y="74.5">240</text><text class="b" x="239" y="88">119123</text><text class="c" x="239" y="100.5">25.00%</text></g>
<g id="m71" transform="translate(511.5,0)"><text class="mn" x="-1" y="-7">71</text>
<use href="#v2"/>
<text class="a" x="239" y="74.5">127</text><text class="b" x="239" y="88">119885</text><text class="c" x="239" y="100.5">25.00%</text></g>
<g id="m72" transform="translate(751.5,0)"><text class="mn" x="-1" y="-7">72</text>
<use href="#P"/>
<text class="a" x="239" y="74.5">288</text><text class="b" x="239" y="88">121613</text><text class="c" x="239" y="100.5">25.00%</text></g>
<rect class="ovg" x="31" y="-0.5" width="15" height="61"/>
</g>

<g id="row18" transform="translate(0,2971.5)">
<use href="#grid" x="31.5"/><use href="#grid" x="271.5"/><use href="#grid" x="511.5"/><use href="#grid" x="751.5"/><path d="M991.5,0V60" stroke="#000"/>
<g id="m73" transform="translate(31.5,0)"><text class="mn" x="-1" y="-7">73</text>
<rect class="y" x="30" y="26.5" width="30" height="7"/><rect class="r" x="90" y="11.5" width="60" height="7"/>
<use href="#Y" x="0" y="30"/><use href="#Y" x="30" y="30"/><use href="#R" x="90" y="15"/><use href="#G" x="180" y="0"/><use href="#G" x="210" y="0"/>
<text class="a" x="239" y="74.5">216</text><text class="b" x="239" y="88">122921</text><text class="c" x="239" y="100.5">25.00%</text></g>
<g id="m74" transform="translate(271.5,0)"><text class="mn" x="-1" y="-7">74</text>
<use href="#v1"/>
<text class="a" x="239" y="74.5">242</text><text class="b" x="239" y="88">125467</text><text class="c" x="239" y="100.5">25.00%</text></g>
<g id="m75" transform="translate(511.5,0)"><text class="mn" x="-1" y="-7">75</text>
<rect class="o" x="30" y="56.5" width="105" height="7"/>
<use href="#Y" x="0" y="30"/><use href="#O" x="30" y="60"/><use href="#Y" x="150" y="30"/><use href="#B" x="180" y="45"/><use href="#Y" x="210" y="30"/>
<text class="a" x="239" y="74.5">296</text><text class="b" x="239" y="88">126323</text><text class="c" x="239" y="100.5">20.29%</text></g>
<g id="m76" transform="translate(751.5,0)"><text class="mn" x="-1" y="-7">76</text>
<use href="#P"/><use href="#R" x="210" y="15"/>
<text class="a" x="239" y="74.5">300</text><text class="b" x="239" y="88">129779</text><text class="c" x="239" y="100.5">7.79%</text></g>
<rect class="ovp" x="661" y="-0.5" width="8" height="61"/><rect class="ovb" x="669" y="-0.5" width="322" height="61"/>
</g>

<g id="row19" transform="translate(0,3124.5)">
<use href="#grid" x="31.5"/><use href="#grid" x="271.5"/><use href="#grid" x="511.5"/><use href="#grid" x="751.5"/><path d="M991.5,0V60" stroke="#000"/>
<g id="m77" transform="translate(31.5,0)"><text class="mn" x="-1" y="-7">77</text>
<rect class="r" x="60" y="11.5" width="44" height="7"/>
<use href="#B" x="0" y="45"/><use href="#G" x="30" y="0"/><use href="#R" x="60" y="15"/><use href="#Y" x="120" y="30"/><use href="#Y" x="135" y="30"/><use href="#G" x="150" y="0"/>
<text class="a" x="239" y="74.5">275</text><text class="b" x="239" y="88">132815</text><text class="c" x="239" y="100.5">0.00%</text></g>
<g id="m78" transform="translate(271.5,0)"><text class="mn" x="-1" y="-7">78</text>
<rect class="y" x="30" y="26.5" width="30" height="7"/><rect class="b2" x="120" y="41.5" width="45" height="7"/>
<use href="#Y" x="0" y="30"/><use href="#Y" x="30" y="30"/><use href="#O" x="90" y="60"/><use href="#B" x="120" y="45"/><use href="#G" x="180" y="0"/><use href="#G" x="210" y="0"/>
<text class="a" x="239" y="74.5">242</text><text class="b" x="239" y="88">134267</text><text class="c" x="239" y="100.5">0.00%</text></g>
<g id="m79" transform="translate(511.5,0)"><text class="mn" x="-1" y="-7">79</text>
<use href="#v2"/>
<text class="a" x="239" y="74.5">127</text><text class="b" x="239" y="88">135029</text><text class="c" x="239" y="100.5">0.00%</text></g>
<g id="m80" transform="translate(751.5,0)"><text class="mn" x="-1" y="-7">80</text>
<use href="#B" x="0" y="45"/><use href="#Y" x="30" y="30"/><use href="#Y" x="60" y="30"/><use href="#Y" x="90" y="30"/><use href="#Y" x="120" y="30"/><use href="#Y" x="150" y="30"/><use href="#Y" x="180" y="30"/><use href="#R" x="210" y="15"/>
<text class="a" x="239" y="74.5">288</text><text class="b" x="239" y="88">136757</text><text class="c" x="239" y="100.5">0.00%</text></g>
<rect class="ovb" x="31" y="-0.5" width="140" height="61"/><rect class="ovp" x="171" y="-0.5" width="10" height="61"/>
</g>

<g id="row20" transform="translate(0,3277.5)">
<use href="#grid" x="31.5"/><use href="#grid" x="271.5"/><path d="M511.5,0V60" stroke="#000"/>
<g id="m81" transform="translate(31.5,0)"><text class="mn" x="-1" y="-7">81</text>
<rect class="g" x="30" y="-3.5" width="30" height="7"/><rect class="g" x="120" y="-3.5" width="30" height="7"/>
<use href="#Y" x="0" y="30"/><use href="#G" x="30" y="0"/><use href="#G" x="120" y="0"/>
<text class="a" x="239" y="74.5">242</text><text class="b" x="239" y="88">138209</text><text class="c" x="239" y="100.5">0.00%</text></g>
<g id="m82" transform="translate(271.5,0)"><text class="mn" x="-1" y="-7">82</text>
<rect class="g" x="30" y="-3.5" width="30" height="7"/><rect class="g" x="120" y="-3.5" width="35" height="7"/>
<use href="#G" x="30" y="0"/><use href="#G" x="120" y="0"/>
<text class="a" x="239" y="74.5">176</text><text class="b" x="239" y="88">139265</text><text class="c" x="239" y="100.5">0.00%</text></g>
</g>
</svg>
